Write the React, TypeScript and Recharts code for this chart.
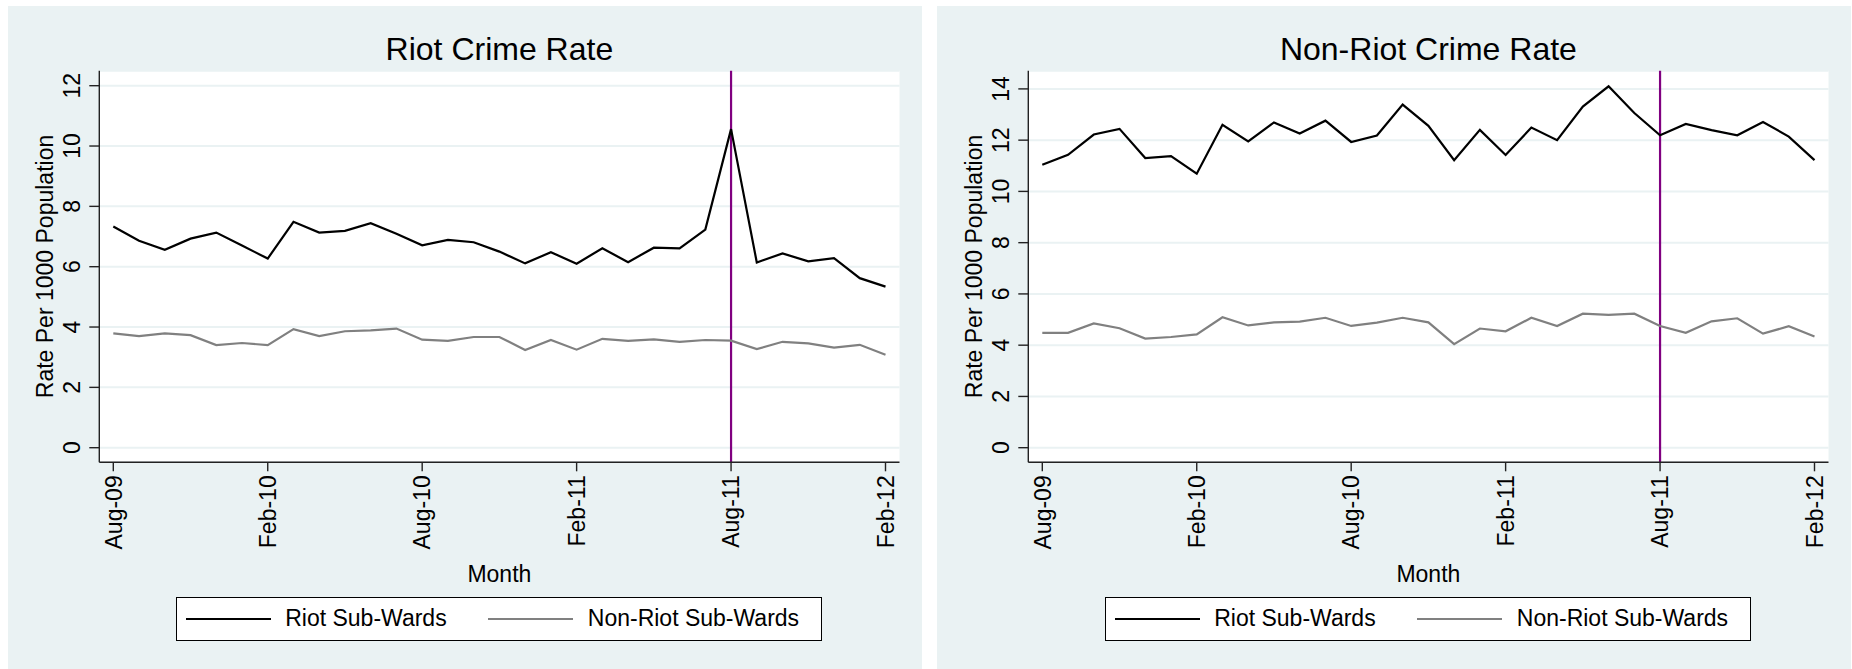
import { CartesianGrid, Legend, Line, LineChart, ReferenceLine, XAxis, YAxis } from "recharts";

const BG = "#eaf2f3";
const FONT = '"Liberation Sans", Arial, Helvetica, sans-serif';

const months = [
  "Aug-09", "Sep-09", "Oct-09", "Nov-09", "Dec-09", "Jan-10", "Feb-10",
  "Mar-10", "Apr-10", "May-10", "Jun-10", "Jul-10", "Aug-10", "Sep-10",
  "Oct-10", "Nov-10", "Dec-10", "Jan-11", "Feb-11", "Mar-11", "Apr-11",
  "May-11", "Jun-11", "Jul-11", "Aug-11", "Sep-11", "Oct-11", "Nov-11",
  "Dec-11", "Jan-12", "Feb-12",
];
const monthTicks = [0, 6, 12, 18, 24, 30];
const riotMonth = 24; // Aug-11

const seriesNames = ["Riot Sub-Wards", "Non-Riot Sub-Wards"];

// Riot crime rate
const riotCrimeRiotWards = [
  7.33, 6.86, 6.56, 6.93, 7.13, 6.7, 6.27, 7.49, 7.13, 7.19, 7.44, 7.09, 6.71,
  6.89, 6.81, 6.5, 6.11, 6.48, 6.1, 6.61, 6.15, 6.63, 6.61, 7.23, 10.56, 6.14,
  6.44, 6.18, 6.28, 5.62, 5.34,
];
const riotCrimeOtherWards = [
  3.79, 3.7, 3.79, 3.73, 3.4, 3.47, 3.4, 3.93, 3.7, 3.86, 3.89, 3.95, 3.58,
  3.54, 3.67, 3.67, 3.24, 3.57, 3.25, 3.61, 3.54, 3.59, 3.51, 3.57, 3.55, 3.27,
  3.51, 3.46, 3.32, 3.41, 3.08,
];

// Non-riot crime rate
const otherCrimeRiotWards = [
  11.04, 11.43, 12.22, 12.44, 11.3, 11.38, 10.69, 12.6, 11.95, 12.69, 12.26,
  12.76, 11.93, 12.18, 13.39, 12.56, 11.22, 12.4, 11.42, 12.49, 12.0, 13.31,
  14.1, 13.06, 12.19, 12.63, 12.39, 12.19, 12.71, 12.14, 11.22,
];
const otherCrimeOtherWards = [
  4.48, 4.48, 4.85, 4.66, 4.26, 4.32, 4.42, 5.09, 4.77, 4.89, 4.92, 5.07, 4.75,
  4.88, 5.07, 4.89, 4.04, 4.65, 4.54, 5.07, 4.75, 5.23, 5.18, 5.23, 4.75, 4.48,
  4.93, 5.05, 4.45, 4.74, 4.34,
];

const leftTicks = [0, 2, 4, 6, 8, 10, 12];
const rightTicks = [0, 2, 4, 6, 8, 10, 12, 14];

const W = 914;
const H = 663;
const M = { top: 64.7, right: 22.5, bottom: 86.7, left: 0 };
const Y_W = 91.3;

function YTick({ x, y, payload }: any) {
  return (
    <text
      x={x}
      y={y}
      transform={`rotate(-90 ${x} ${y})`}
      textAnchor="middle"
      fontSize={23}
      fontFamily={FONT}
      fill="#000"
    >
      {payload.value}
    </text>
  );
}

function XTick({ x, y, payload }: any) {
  return (
    <text
      x={x}
      y={y}
      dy="0.36em"
      transform={`rotate(-90 ${x} ${y})`}
      textAnchor="end"
      fontSize={23}
      fontFamily={FONT}
      fill="#000"
    >
      {months[payload.value]}
    </text>
  );
}

function YTitle(props: any) {
  const vb = props.viewBox || { x: 0, y: M.top, width: Y_W, height: 391.6 };
  const x = vb.x + 45.4;
  const y = vb.y + vb.height / 2;
  return (
    <text
      x={x}
      y={y}
      transform={`rotate(-90 ${x} ${y})`}
      textAnchor="middle"
      fontSize={23}
      fontFamily={FONT}
      fill="#000"
    >
      Rate Per 1000 Population
    </text>
  );
}

function LegendBox({ payload }: any) {
  const items = [...(payload || [])].sort(
    (a: any, b: any) => seriesNames.indexOf(a.value) - seriesNames.indexOf(b.value),
  );
  return (
    <div
      style={{
        position: "relative",
        width: 646,
        height: 43.4,
        boxSizing: "border-box",
        border: "1px solid #000",
        background: "#fff",
        fontFamily: FONT,
        fontSize: 23,
      }}
    >
      {items.map((entry: any, k: number) => (
        <div
          key={entry.value}
          style={{
            position: "absolute",
            left: 9 + k * 302.6,
            top: 0,
            height: 41.4,
            display: "flex",
            alignItems: "center",
            whiteSpace: "nowrap",
          }}
        >
          <svg width={85} height={4} style={{ display: "block" }}>
            <line x1={0} y1={2} x2={85} y2={2} stroke={entry.color} strokeWidth={2.2} />
          </svg>
          <span style={{ marginLeft: 14.5, color: "#000" }}>{entry.value}</span>
        </div>
      ))}
    </div>
  );
}

function Panel({
  title,
  riot,
  other,
  domain,
  ticks,
}: {
  title: string;
  riot: number[];
  other: number[];
  domain: [number, number];
  ticks: number[];
}) {
  const data = months.map((m, i) => ({ i, month: m, riot: riot[i], other: other[i] }));
  const plotW = W - M.right - Y_W;
  return (
    <div style={{ position: "relative", width: W, height: H, background: BG }}>
      <div
        style={{
          position: "absolute",
          left: Y_W,
          width: plotW,
          top: 27,
          textAlign: "center",
          fontFamily: FONT,
          fontSize: 32,
          lineHeight: "32px",
          color: "#000",
          whiteSpace: "nowrap",
        }}
      >
        {title}
      </div>
      <LineChart width={W} height={H} data={data} margin={M}>
        <CartesianGrid vertical={false} stroke={BG} strokeWidth={2} fill="#fff" />
        <XAxis
          dataKey="i"
          type="number"
          domain={[0, 30]}
          ticks={monthTicks}
          interval={0}
          padding={{ left: 14, right: 14 }}
          height={120}
          stroke="#222"
          strokeWidth={1.4}
          tickSize={9}
          tickMargin={4}
          tick={<XTick />}
          label={{
            value: "Month",
            position: "insideBottom",
            offset: 0,
            fontSize: 23,
            fontFamily: FONT,
            fill: "#000",
          }}
        />
        <YAxis
          type="number"
          domain={domain}
          ticks={ticks}
          interval={0}
          width={Y_W}
          stroke="#222"
          strokeWidth={1.4}
          tickSize={10}
          tickMargin={9}
          tick={<YTick />}
          label={(p: any) => <YTitle {...p} />}
        />
        <ReferenceLine x={riotMonth} stroke="#800080" strokeWidth={2.2} />
        <Line
          type="linear"
          dataKey="riot"
          name={seriesNames[0]}
          stroke="#000"
          strokeWidth={2.2}
          dot={false}
          activeDot={false}
          isAnimationActive={false}
        />
        <Line
          type="linear"
          dataKey="other"
          name={seriesNames[1]}
          stroke="#808080"
          strokeWidth={2.2}
          dot={false}
          activeDot={false}
          isAnimationActive={false}
        />
        <Legend
          layout="horizontal"
          verticalAlign="middle"
          align="center"
          content={<LegendBox />}
          wrapperStyle={{ left: 167.7, top: 591.3, width: 646, height: 43.4 }}
        />
      </LineChart>
    </div>
  );
}

export default function App() {
  return (
    <div
      style={{
        position: "absolute",
        left: 0,
        top: 0,
        width: 1852,
        height: 669,
        background: "#fff",
        overflow: "hidden",
      }}
    >
      <div style={{ position: "absolute", left: 8, top: 6 }}>
        <Panel
          title="Riot Crime Rate"
          riot={riotCrimeRiotWards}
          other={riotCrimeOtherWards}
          domain={[-0.484, 12.497]}
          ticks={leftTicks}
        />
      </div>
      <div style={{ position: "absolute", left: 937, top: 6 }}>
        <Panel
          title="Non-Riot Crime Rate"
          riot={otherCrimeRiotWards}
          other={otherCrimeOtherWards}
          domain={[-0.57, 14.71]}
          ticks={rightTicks}
        />
      </div>
    </div>
  );
}
